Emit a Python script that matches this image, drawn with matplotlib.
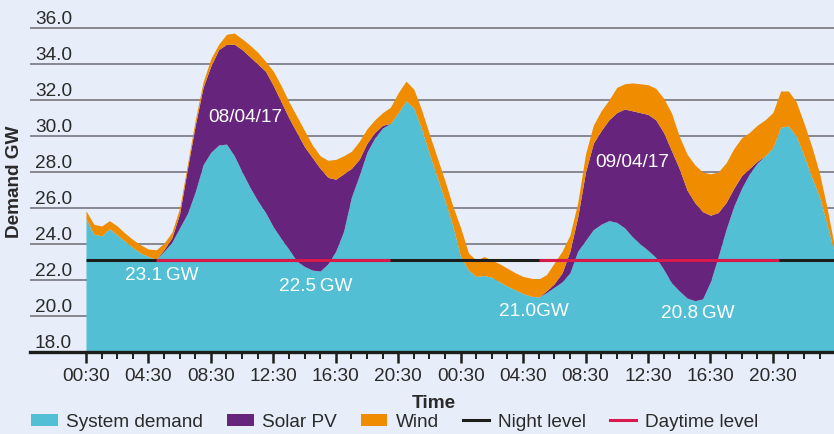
import numpy as np
import matplotlib
matplotlib.use("Agg")
import matplotlib.pyplot as plt
from matplotlib.patches import Patch
from matplotlib.lines import Line2D
import matplotlib.transforms as mtransforms

plt.rcParams['font.family'] = ['Liberation Sans', 'DejaVu Sans']

# ---------------- data (half-hourly, hours from 00:00 on 08/04/17) -------------
hours = np.arange(0.5, 48.51, 0.5)

demand = [25.4, 24.55, 24.45, 24.85, 24.5, 24.15, 23.8, 23.5, 23.3, 23.15,
          23.6, 24.1, 24.9, 25.7, 26.9, 28.4, 29.1, 29.5, 29.55, 28.9,
          28.0, 27.15, 26.4, 25.75, 24.95, 24.3, 23.7, 23.05, 22.75, 22.55,
          22.5, 22.9, 23.6, 24.7, 26.6, 27.8, 29.1, 29.9, 30.45, 30.7,
          31.3, 31.95, 31.55, 30.4, 29.0, 27.7, 26.4, 25.0, 23.3, 22.55,
          22.2, 22.25, 22.15, 21.9, 21.65, 21.45, 21.25, 21.1, 21.05, 21.3,
          21.6, 21.9, 22.4, 23.6, 24.2, 24.8, 25.1, 25.3, 25.2, 24.9,
          24.4, 24.0, 23.65, 23.25, 22.6, 21.85, 21.4, 21.0, 20.85, 20.95,
          21.9, 23.3, 24.8, 26.1, 27.1, 27.9, 28.5, 28.9, 29.35, 30.5,
          30.55, 30.0, 28.9, 27.7, 26.6, 25.0, 23.3]

solar = [0, 0, 0, 0, 0, 0, 0, 0, 0, 0,
         0.1, 0.25, 0.8, 2.5, 3.7, 4.3, 4.8, 5.3, 5.55, 6.2,
         6.8, 7.25, 7.6, 7.85, 7.85, 7.6, 7.3, 7.15, 6.65, 6.25,
         5.7, 4.8, 4.0, 3.2, 1.6, 0.9, 0.5, 0.3, 0.15, 0,
         0, 0, 0, 0, 0, 0, 0, 0, 0, 0,
         0, 0, 0, 0, 0, 0, 0, 0, 0, 0.1,
         0.2, 0.5, 1.2, 1.9, 3.8, 4.8, 5.2, 5.6, 6.1, 6.6,
         7.0, 7.3, 7.55, 7.65, 7.6, 7.35, 6.8, 6.0, 5.45, 4.85,
         3.7, 2.45, 1.5, 1.0, 0.7, 0.3, 0.1, 0, 0, 0,
         0, 0, 0, 0, 0, 0, 0]

wind = [0.45, 0.55, 0.55, 0.45, 0.5, 0.45, 0.45, 0.45, 0.42, 0.53,
        0.35, 0.3, 0.3, 0.25, 0.3, 0.3, 0.4, 0.3, 0.55, 0.62,
        0.6, 0.65, 0.65, 0.55, 0.8, 0.9, 0.9, 0.9, 0.9, 0.7,
        0.7, 0.95, 1.1, 1.0, 0.95, 1.0, 0.8, 0.7, 0.7, 0.9,
        1.1, 1.1, 1.05, 1.05, 1.1, 1.1, 1.1, 1.1, 1.6, 0.95,
        0.9, 1.05, 0.95, 1.0, 1.0, 0.95, 0.95, 1.0, 1.0, 0.9,
        1.15, 1.2, 0.9, 0.8, 1.0, 1.0, 1.1, 1.1, 1.4, 1.4,
        1.55, 1.6, 1.65, 1.75, 1.9, 2.1, 1.8, 2.0, 2.1, 2.2,
        2.3, 2.25, 2.2, 2.2, 2.1, 2.0, 2.0, 2.0, 1.95, 2.0,
        1.95, 1.9, 1.8, 1.7, 1.3, 0.9, 0.3]

level = 23.1
day_start = [5.0, 29.5]
day_end = [20.0, 44.9]

tick_hours = [0.5, 4.5, 8.5, 12.5, 16.5, 20.5, 24.5, 28.5, 32.5, 36.5, 40.5, 44.5]
tick_labels = ["00:30", "04:30", "08:30", "12:30", "16:30", "20:30",
               "00:30", "04:30", "08:30", "12:30", "16:30", "20:30"]
y_values = [18.0, 20.0, 22.0, 24.0, 26.0, 28.0, 30.0, 32.0, 34.0, 36.0]

annotations = [("08/04/17", 10.69, 31.1), ("23.1\u2009GW", 5.37, 22.28),
               ("22.5\u2009GW", 15.23, 21.72), ("21.0GW", 29.2, 20.33),
               ("09/04/17", 35.48, 28.56), ("20.8\u2009GW", 39.7, 20.17)]

# ---------------- style ----------------
BG = "#e7eef9"
TEAL = "#52bfd4"
PURPLE = "#67247c"
ORANGE = "#f08c00"
RED = "#d7194b"
DARK = "#1d1d1b"
TXT = "#2a2a2a"
GRID = "#80808a"
FS = 13.7

W, H = 834, 435
fig = plt.figure(figsize=(W / 100, H / 100), dpi=100, facecolor=BG)
ax = fig.add_axes([30 / W, 82 / H, 1 - 30 / W, 1 - 82 / H])
ax.set_facecolor(BG)

d = np.array(demand)
s = np.array(solar)
w = np.array(wind)
ymin = 18.0
ax.fill_between(hours, ymin, d, color=TEAL, lw=0, zorder=2)
ax.fill_between(hours, d, d + s, color=PURPLE, lw=0, zorder=2)
ax.fill_between(hours, d + s, d + s + w, color=ORANGE, lw=0, zorder=2)

# gridlines
for v in y_values[1:]:
    ax.axhline(v, color=GRID, lw=1.3, zorder=1)

# level lines
ax.plot([hours[0], hours[-1]], [level, level], color=DARK, lw=2.2, zorder=4,
        solid_capstyle='butt')
for a, b in zip(day_start, day_end):
    ax.plot([a, b], [level, level], color=RED, lw=2.2, zorder=5,
            solid_capstyle='butt')

x_left = 0.5 - 56 / 15.61
x_right = 0.5 + (W - 86) / 15.61
ax.set_xlim(x_left, x_right)
ax.set_ylim(ymin, 36 + 29 / 18)

for sp in ['top', 'right', 'left']:
    ax.spines[sp].set_visible(False)
ax.spines['bottom'].set_color(DARK)
ax.spines['bottom'].set_linewidth(2.4)
ax.spines['bottom'].set_zorder(6)

ax.set_yticks([])
ax.set_xticks(tick_hours)
ax.set_xticklabels(tick_labels, fontsize=FS, color=TXT)
ax.set_xticks(np.arange(0.5, 48.0, 1.0), minor=True)
ax.tick_params(axis='x', which='major', length=8, width=1.8, color=DARK,
               direction='out', pad=2.5)
ax.tick_params(axis='x', which='minor', length=5, width=1.4, color=DARK,
               direction='out')

# y tick labels sitting above gridlines
trans = mtransforms.blended_transform_factory(ax.transAxes, ax.transData)
off = mtransforms.ScaledTranslation(0, 5 / 100, fig.dpi_scale_trans)
for v in y_values:
    ax.text(5 / (W - 30), v, f"{v:.1f}", transform=trans + off, fontsize=FS,
            color=TXT, ha='left', va='baseline', zorder=7)

for txt, xh, yv in annotations:
    ax.text(xh, yv, txt, color='white', fontsize=FS, ha='center', va='center',
            zorder=8)

fig.text(434 / W, 1 - 408 / H, "Time", fontsize=FS, fontweight='bold',
         color=TXT, ha='center', va='baseline')
fig.text(15 / W, 1 - 182 / H, "Demand GW", fontsize=FS, fontweight='bold',
         color=TXT, ha='center', va='center', rotation=90)

handles = [Patch(facecolor=TEAL, edgecolor='none'),
           Patch(facecolor=PURPLE, edgecolor='none'),
           Patch(facecolor=ORANGE, edgecolor='none'),
           Line2D([], [], color=DARK, lw=2.2),
           Line2D([], [], color=RED, lw=2.2)]
labels = ["System demand", "Solar PV", "Wind", "Night level", "Daytime level"]
leg = fig.legend(handles, labels, loc='center left',
                 bbox_to_anchor=(31 / W, 1 - 423 / H), ncol=5, frameon=False,
                 fontsize=FS, handlelength=1.4, handleheight=0.6,
                 handletextpad=0.45, columnspacing=1.25, borderpad=0,
                 borderaxespad=0)
for t in leg.get_texts():
    t.set_color(TXT)

fig.savefig("out.png", dpi=100, facecolor=BG)
